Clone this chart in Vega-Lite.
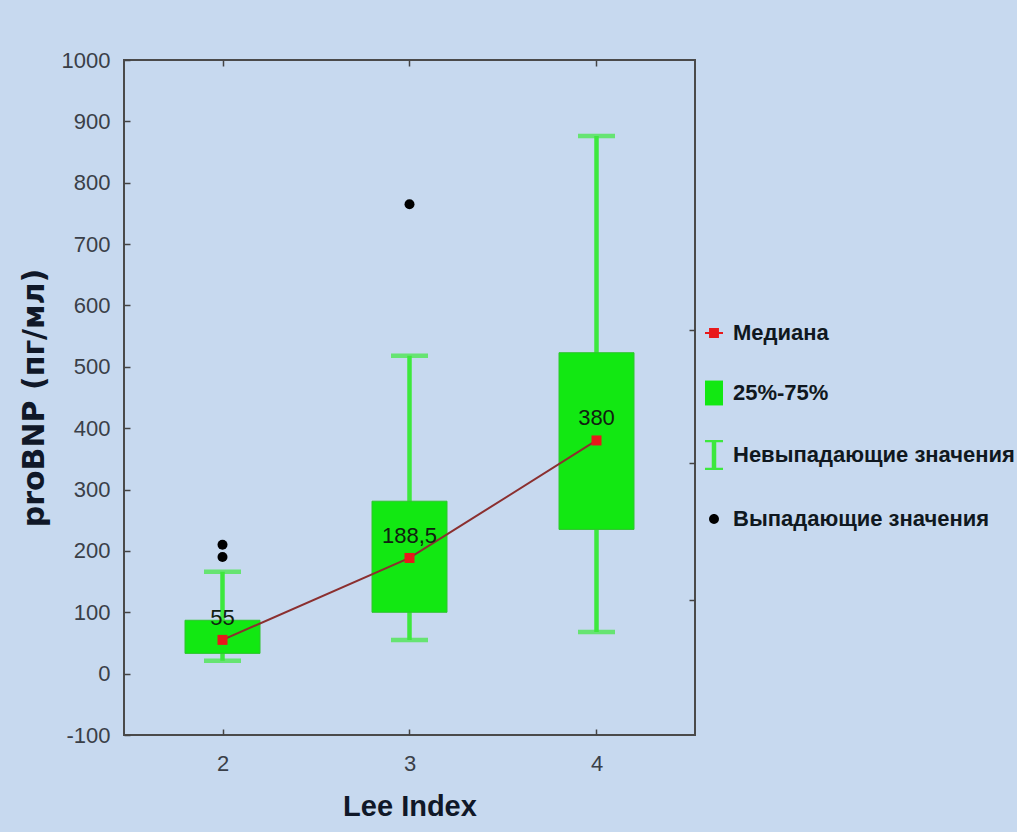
{
  "$schema": "https://vega.github.io/schema/vega-lite/v6.json",
  "width": 571,
  "height": 675,
  "autosize": {"type": "none"},
  "padding": {"left": 124, "top": 60, "right": 322, "bottom": 97},
  "background": "#c7d9ef",
  "config": {
    "view": {"fill": "#ddd7c3", "stroke": "#4a4a4a", "strokeWidth": 2},
    "font": "Liberation Sans",
    "axis": {
      "grid": false,
      "domain": false,
      "tickColor": "#444444",
      "tickSize": -6,
      "tickWidth": 1.5,
      "labelFont": "Liberation Sans",
      "labelFontSize": 22,
      "labelColor": "#3a3f48",
      "titleFont": "Liberation Sans",
      "titleFontWeight": "bold",
      "titleColor": "#101828"
    }
  },
  "datasets": {
    "boxes": [
      {"lee": 2, "lower": 21, "q1": 33, "median": 55, "q3": 87, "upper": 166, "label": "55"},
      {"lee": 3, "lower": 55, "q1": 100, "median": 188.5, "q3": 281, "upper": 518, "label": "188,5"},
      {"lee": 4, "lower": 68, "q1": 235, "median": 380, "q3": 523, "upper": 876, "label": "380"}
    ],
    "outliers": [
      {"lee": 2, "value": 210},
      {"lee": 2, "value": 190},
      {"lee": 3, "value": 765}
    ],
    "legend": [
      {"item": "Медиана"},
      {"item": "25%-75%"},
      {"item": "Невыпадающие значения"},
      {"item": "Выпадающие значения"}
    ]
  },
  "resolve": {"axis": {"x": "independent", "y": "independent"}},
  "layer": [
    {
      "data": {"name": "boxes"},
      "mark": {"type": "rule", "color": "#3de83d", "strokeWidth": 4.5},
      "encoding": {
        "x": {
          "field": "lee", "type": "quantitative",
          "scale": {"domain": [1.5, 4.5], "nice": false, "zero": false},
          "axis": {"orient": "bottom", "values": [2, 3, 4], "title": "Lee Index", "titleFontSize": 29, "titlePadding": 18, "labelPadding": 24, "labelExpr": "'' + datum.value"}
        },
        "y": {
          "field": "lower", "type": "quantitative",
          "scale": {"domain": [-100, 1000], "nice": false, "zero": false},
          "axis": {"orient": "left", "values": [-100, 0, 100, 200, 300, 400, 500, 600, 700, 800, 900, 1000], "title": "proBNP (пг/мл)", "titleFont": "DejaVu Sans", "titleFontSize": 30, "titlePadding": 12, "labelPadding": 20, "labelExpr": "'' + datum.value"}
        },
        "y2": {"field": "upper"}
      }
    },
    {
      "data": {"name": "boxes"},
      "mark": {"type": "tick", "orient": "horizontal", "color": "#3de83d", "size": 37, "thickness": 4.5},
      "encoding": {
        "x": {"field": "lee", "type": "quantitative", "axis": null},
        "y": {"field": "lower", "type": "quantitative", "axis": null}
      }
    },
    {
      "data": {"name": "boxes"},
      "mark": {"type": "tick", "orient": "horizontal", "color": "#3de83d", "size": 37, "thickness": 4.5},
      "encoding": {
        "x": {"field": "lee", "type": "quantitative", "axis": null},
        "y": {"field": "upper", "type": "quantitative", "axis": null}
      }
    },
    {
      "data": {"name": "boxes"},
      "mark": {"type": "bar", "width": 75, "fill": "#12e812", "stroke": "#2fc42f", "strokeWidth": 1},
      "encoding": {
        "x": {"field": "lee", "type": "quantitative", "axis": null},
        "y": {"field": "q1", "type": "quantitative", "axis": null},
        "y2": {"field": "q3"}
      }
    },
    {
      "data": {"name": "boxes"},
      "mark": {"type": "line", "color": "#8b2f2f", "strokeWidth": 2},
      "encoding": {
        "x": {"field": "lee", "type": "quantitative", "axis": {"orient": "top", "values": [2, 3, 4], "labels": false, "title": null}},
        "y": {"field": "median", "type": "quantitative", "axis": {"orient": "right", "values": [120, 343, 560], "labels": false, "title": null}}
      }
    },
    {
      "data": {"name": "boxes"},
      "mark": {"type": "point", "shape": "square", "filled": true, "size": 100, "color": "#e8191b", "opacity": 1},
      "encoding": {
        "x": {"field": "lee", "type": "quantitative", "axis": null},
        "y": {"field": "median", "type": "quantitative", "axis": null}
      }
    },
    {
      "data": {"name": "boxes"},
      "mark": {"type": "text", "dy": -22, "fontSize": 22, "font": "Liberation Sans", "color": "#102010"},
      "encoding": {
        "x": {"field": "lee", "type": "quantitative", "axis": null},
        "y": {"field": "median", "type": "quantitative", "axis": null},
        "text": {"field": "label"}
      }
    },
    {
      "data": {"name": "outliers"},
      "mark": {"type": "point", "shape": "circle", "filled": true, "size": 100, "color": "#000000", "opacity": 1},
      "encoding": {
        "x": {"field": "lee", "type": "quantitative", "axis": null},
        "y": {"field": "value", "type": "quantitative", "axis": null}
      }
    },
    {
      "data": {"name": "legend"},
      "mark": {"type": "point", "filled": true, "opacity": 0},
      "encoding": {
        "color": {
          "field": "item", "type": "nominal",
          "scale": {"domain": ["Медиана", "25%-75%", "Невыпадающие значения", "Выпадающие значения"], "range": ["#e8191b", "#12e812", "#3de83d", "#000000"]},
          "legend": {
            "orient": "none", "legendX": 575, "legendY": 258, "title": null,
            "labelFont": "Liberation Sans", "labelFontSize": 22, "labelFontWeight": "bold", "labelColor": "#101820",
            "labelLimit": 400, "labelOffset": 4, "symbolSize": 900, "symbolOpacity": 1, "symbolStrokeWidth": 0,
            "rowPadding": 34, "padding": 0,
            "encode": {"symbols": {"update": {"opacity": {"value": 1}, "fillOpacity": {"value": 1}}}}
          }
        },
        "shape": {
          "field": "item", "type": "nominal",
          "scale": {"domain": ["Медиана", "25%-75%", "Невыпадающие значения", "Выпадающие значения"], "range": [
            "M-0.6,-0.07H0.6V0.07H-0.6Z M-0.33,-0.33H0.33V0.33H-0.33Z",
            "M-0.6,-0.83H0.6V0.83H-0.6Z",
            "M-0.6,-1H0.6V-0.85H0.15V0.85H0.6V1H-0.6V0.85H-0.15V-0.85H-0.6Z",
            "M0.33,0A0.33,0.33,0,1,1,-0.33,0A0.33,0.33,0,1,1,0.33,0Z"
          ]}
        }
      }
    }
  ]
}
